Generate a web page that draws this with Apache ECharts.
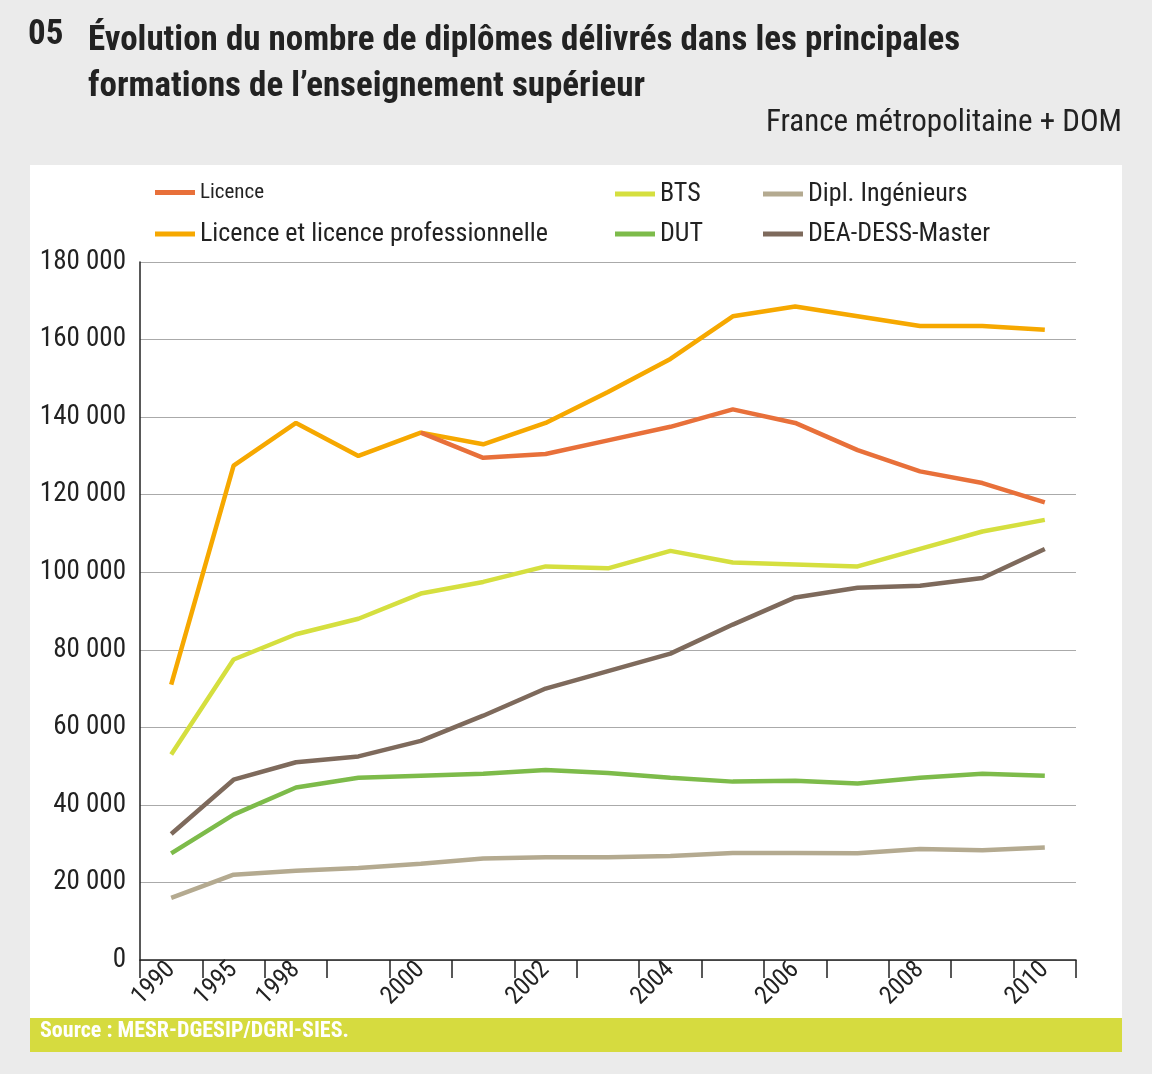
<!DOCTYPE html>
<html><head><meta charset="utf-8">
<script src="https://cdn.jsdelivr.net/npm/echarts@6/dist/echarts.min.js"></script>
<style>html,body{margin:0;padding:0;background:#ebebeb}#c{width:1152px;height:1074px}</style>
</head><body><div id="c"></div>
<script>
const years = ['1990','1995','1998','1999','2000','2001','2002','2003','2004','2005','2006','2007','2008','2009','2010'];
const shownYears = ['1990','1995','1998','2000','2002','2004','2006','2008','2010'];
const licence = [null,null,null,null,136000,129500,130500,134000,137500,142000,138500,131500,126000,123000,118000];
const licencePro = [71000,127500,138500,130000,136000,133000,138500,146500,155000,166000,168500,166000,163500,163500,162500];
const bts = [53000,77500,84000,88000,94500,97500,101500,101000,105500,102500,102000,101500,106000,110500,113500];
const dut = [27500,37500,44500,47000,47500,48000,49000,48200,47000,46000,46200,45500,47000,48000,47500];
const ingenieurs = [16000,22000,23000,23700,24800,26200,26500,26500,26800,27600,27600,27500,28600,28300,29000];
const master = [32500,46500,51000,52500,56500,63000,70000,74500,79000,86500,93500,96000,96500,98500,106000];
const yTicks = [0,20000,40000,60000,80000,100000,120000,140000,160000,180000];

const F = '"Liberation Sans Narrow","Roboto Condensed","Liberation Sans",Arial,sans-serif';
const names = ['Licence','Licence et licence professionnelle','BTS','DUT','Dipl. Ingénieurs','DEA-DESS-Master'];
const colors = ['#e8703a','#f6a800','#d5df3f','#7dbb4a','#b4aa90','#7e6a5c'];
const datas = [licence,licencePro,bts,dut,ingenieurs,master];
const legendPos = [[150,177,21],[150,216,26],[610,176,26],[610,216,26],[758,176,26],[758,216,26]];

const chart = echarts.init(document.getElementById('c'));
chart.setOption({
  backgroundColor:'#ebebeb',
  animation:false,
  graphic:[
    {type:'rect',shape:{x:30,y:165,width:1092,height:887},style:{fill:'#fff'},z:-10},
    {type:'rect',shape:{x:30,y:1018,width:1092,height:34},style:{fill:'#d6db3f'},z:-5},
    {type:'text',left:40,top:1020,style:{text:'Source : MESR-DGESIP/DGRI-SIES.',fill:'#fff',font:'bold 22px '+F}},
    {type:'text',left:28,top:18,style:{text:'05',fill:'#222',font:'bold 35px '+F}},
    {type:'text',left:88,top:18,style:{text:'Évolution du nombre de diplômes délivrés dans les principales\nformations de l’enseignement supérieur',fill:'#222',font:'bold 35px '+F,lineHeight:46}},
    {type:'text',right:30,top:108,style:{text:'France métropolitaine + DOM',fill:'#222',font:'31px '+F}}
  ],
  legend: names.map((n,i)=>({data:[n],left:legendPos[i][0],top:legendPos[i][1],icon:'rect',itemWidth:40,itemHeight:5,itemGap:12,
    textStyle:{fontFamily:F,fontSize:legendPos[i][2],color:'#222'}})),
  grid:{left:140,right:76,top:262,bottom:114},
  xAxis:{type:'category',data:years,boundaryGap:true,
    axisLine:{lineStyle:{color:'#222',width:1.5}},
    axisTick:{show:true,length:18,lineStyle:{color:'#222',width:1.5}},
    axisLabel:{interval:0,rotate:45,fontFamily:F,fontSize:25,color:'#222',margin:6,
      formatter:v=>shownYears.includes(v)?v:''}},
  yAxis:{type:'value',min:0,max:180000,interval:20000,
    axisLine:{show:true,lineStyle:{color:'#222',width:1.5}},
    splitLine:{lineStyle:{color:'#aaa',width:1}},
    axisLabel:{fontFamily:F,fontSize:27,color:'#222',margin:14,
      formatter:v=>v===0?'0':String(v).replace(/\B(?=(\d{3})+(?!\d))/g,' ')}},
  series: names.map((n,i)=>({name:n,type:'line',data:datas[i],symbol:'none',z:i===0?5:3,
    lineStyle:{color:colors[i],width:4.5},itemStyle:{color:colors[i]}}))
});
</script></body></html>
